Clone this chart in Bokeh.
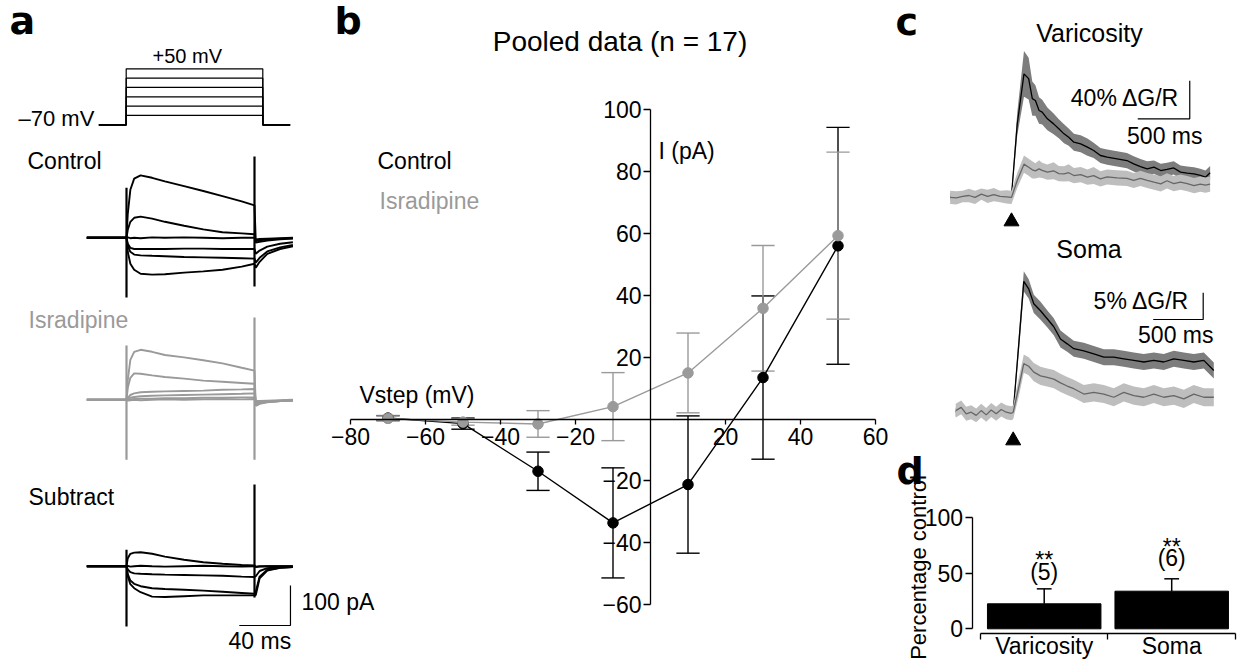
import numpy as np
from bokeh.plotting import figure
from bokeh.models import Range1d, LinearAxis, FixedTicker, CustomJSTickFormatter
from bokeh.core.properties import value
from bokeh.embed import file_html
from bokeh.resources import INLINE

FONT = "Liberation Sans"
GRAY = "#9a9a9a"

# ======================= DATA =======================
# ---- panel a: voltage protocol ----
hold_mv = -70
step_mv = [-50, -30, -10, 10, 30, 50]
step_dur_ms = 100

# ---- panel a: whole-cell currents (pA) sampled at these times (ms, step onset = 0)
trace_t = [-31, 0, 1, 3, 6, 11, 20, 30, 45, 60, 75, 90, 100, 101, 104, 110, 120, 130]
ctrl_traces = [
    [0, 0, 60, 120, 148, 156, 150, 141, 129, 117, 104, 91, 81, -8, -6, -4, -2, -1],
    [0, 0, 20, 40, 50, 53, 48, 40, 30, 21, 14, 11, 9, -12, -10, -7, -4, -2],
    [0, 0, 1, -1, 0, -1, 1, 0, 1, 0, -1, 0, 0, -4, -3, -2, -1, 0],
    [0, 0, -15, -25, -28, -28, -28, -28, -27, -27, -28, -28, -28, -40, -32, -22, -15, -11],
    [0, 0, -20, -35, -42, -44, -45, -46, -48, -49, -50, -51, -52, -62, -50, -34, -24, -18],
    [0, 0, -35, -65, -80, -90, -92, -91, -87, -84, -80, -72, -65, -75, -60, -40, -28, -21],
]
isr_traces = [
    [0, 0, 50, 100, 120, 125, 120, 112, 106, 99, 91, 80, 73, -15, -10, -6, -3, -2],
    [0, 0, 30, 55, 66, 65, 61, 57, 53, 48, 45, 42, 40, -12, -9, -5, -3, -2],
    [0, 0, 5, 12, 16, 19, 20, 21, 22, 23, 25, 26, 27, -10, -8, -5, -3, -2],
    [0, 0, 2, 5, 7, 9, 10, 11, 12, 13, 14, 15, 16, -8, -7, -5, -3, -1],
    [0, 0, 0, 1, 2, 3, 3, 4, 4, 5, 5, 6, 6, -5, -5, -4, -2, -1],
    [0, 0, -2, -1, 0, -1, 0, 1, 0, 1, 2, 1, 2, -3, -3, -2, -1, 0],
]
sub_traces = [
    [0, 0, 20, 31, 34, 35, 31, 24, 16, 10, 6, 3, 2, -2, -1, 0, 0, 0],
    [0, 0, 1, -1, 0, 1, 0, -1, 0, 1, 0, -1, 0, -1, 0, 0, 0, 0],
    [0, 0, -8, -15, -18, -19, -20, -21, -22, -23, -24, -26, -27, -25, -12, -5, -2, -1],
    [0, 0, -20, -36, -44, -50, -55, -57, -59, -61, -64, -67, -69, -64, -26, -9, -4, -2],
    [0, 0, -25, -45, -55, -65, -76, -77, -75, -73, -73, -73, -73, -72, -30, -11, -4, -2],
]
# capacitive transients (pA): [top, bottom] at step onset and at step offset
ctrl_trans = [[125, -149], [203, -122]]
isr_trans = [[136, -150], [206, -150]]
sub_trans = [[41, -151], [204, -78]]
scale_pa, scale_ms = 100, 40

# ---- panel b: pooled I-V ----
vstep = [-70, -50, -30, -10, 10, 30, 50]
i_ctrl = [0.3, -1.5, -16.9, -33.6, -21.2, 13.4, 56.0]
e_ctrl = [0.8, 1.8, 6.2, 17.8, 22.2, 26.4, 38.3]
i_isr = [0.2, -1.0, -1.6, 4.0, 14.9, 35.8, 59.3]
e_isr = [0.8, 1.0, 4.3, 11.0, 12.9, 20.3, 27.0]

# ---- panel c: Ca2+ transients (% dG/R), time in ms (stimulus at 0) ----
var_t = [-590, -530, -470, -410, -350, -290, -230, -170, -110, -50, 0, 55, 120, 165, 200, 230,
         265, 295, 345, 405, 455, 505, 550, 600, 665, 730, 790, 855, 920, 1015, 1110, 1175,
         1240, 1305, 1370, 1435, 1495, 1560, 1625, 1690, 1755, 1815, 1865, 1910]
var_ctrl = [-1, -2, 0, 1, -1, 0, 1, -1, 0, -1, 0, 75, 128, 123, 102, 100,
            89.5, 87.7, 80.7, 75.4, 70.2, 64.9, 61.4, 56.1, 54.4, 50.9, 47.4, 42.1, 40.4, 38.6, 36.8, 33.3,
            30.5, 28.1, 29.8, 26.3, 27.5, 29, 24.6, 23.5, 22.8, 21.1, 19.3, 24]
var_ctrl_sem = [4, 4, 4, 4, 4, 4, 4, 4, 4, 4, 4, 12, 24, 22, 18, 16,
                14, 13, 12, 11, 10, 10, 9, 9, 9, 9, 8, 8, 8, 8, 8, 8,
                8, 8, 7, 7, 7, 7, 7, 7, 7, 7, 7, 7]
var_isr = [-2, -2.5, -1, 0, -2, 1.5, -1, 1, -1, -1.5, -2, 15.8, 33, 29.8, 27, 26,
           28, 26.5, 24.6, 26, 23, 22.8, 24, 21, 22, 19.3, 21, 17.5, 19.5, 18.5, 18, 15.8,
           18, 15.8, 14, 12.3, 15.5, 12.5, 14, 12.5, 10.5, 12, 11, 12]
var_isr_sem = [7, 7, 6, 7, 7, 6, 7, 7, 6, 7, 7, 8, 9, 9, 9, 8,
               9, 8, 8, 9, 8, 8, 9, 8, 8, 8, 9, 8, 8, 8, 8, 8,
               8, 8, 8, 8, 8, 8, 8, 8, 8, 8, 8, 8]

soma_t = [-575, -520, -470, -420, -370, -320, -270, -220, -170, -120, -70, -20, 0, 56, 106, 155,
          206, 273, 340, 406, 473, 540, 606, 706, 806, 906, 1006, 1106, 1206, 1306, 1406, 1506,
          1606, 1706, 1806, 1906, 2006]
soma_ctrl = [0, 0.5, -0.2, 0, -0.4, 0.2, -0.3, 0.3, -0.2, 0.3, 0, -0.1, 0, 12.8, 24.5, 23.1,
             20.3, 19.0, 17.5, 16.0, 13.7, 12.8, 11.9, 11.5, 10.9, 10.3, 10.3, 10.0, 9.7, 9.4, 9.7, 9.4,
             10.0, 9.7, 9.4, 9.7, 7.8]
soma_ctrl_sem = [0.8] * 13 + [1.6, 1.9, 1.8, 1.7, 1.7, 1.6, 1.6, 1.6, 1.5, 1.5, 1.5, 1.5, 1.5,
                              1.5, 1.5, 1.5, 1.5, 1.5, 1.5, 1.5, 1.5, 1.5, 1.5, 1.5]
soma_isr = [0.3, 0.9, -0.3, 0, -0.6, 0.3, -0.5, 0.4, -0.3, 0.5, 0, -0.2, 0, 4.7, 9.1, 8.6,
            7.5, 6.8, 6.5, 6.2, 5.5, 4.9, 4.4, 3.4, 3.7, 3.4, 2.8, 3.7, 3.1, 2.8, 3.4, 2.8,
            3.1, 2.5, 3.4, 2.8, 2.8]
soma_isr_sem = [1.3] * 13 + [1.7] * 24
stim_t = 0
var_scale = (40, 500)   # % dG/R, ms
soma_scale = (5, 500)

# ---- panel d ----
sites = ["Varicosity", "Soma"]
pct_control = [22.4, 33.7]
pct_sem = [13.4, 11.1]
n_cells = [5, 6]
signif = ["**", "**"]

# ======================= LAYOUT HELPERS =======================
CW, CH, X0, Y0 = 1240, 661, 0, 0
TXT_DROP = 0.34   # measured downward offset of Bokeh's alphabetic baseline (em)


def xr(p0, v0, p1, v1):
    s = (v1 - v0) / (p1 - p0)
    return Range1d(v0 + (X0 - p0) * s, v0 + (X0 + CW - p0) * s)


def yr(p0, v0, p1, v1):
    s = (v1 - v0) / (p1 - p0)
    return Range1d(v0 + (Y0 + CH - p0) * s, v0 + (Y0 - p0) * s)


p = figure(width=CW, height=CH, output_backend="svg", toolbar_location=None,
           x_axis_location=None, y_axis_location=None, min_border=0,
           outline_line_color=None,
           x_range=xr(650, 0, 725, 20), y_range=yr(418.5, 0, 109.3, 100))
p.xgrid.visible = False
p.ygrid.visible = False

p.extra_x_ranges = {
    "pgx": xr(0, 0, 1, 1),
    "prx": xr(125.7, 0, 262.3, step_dur_ms),
    "ax": xr(126, 0, 254, step_dur_ms),
    "vx": xr(1011, 0, 1063, 500),
    "sx": xr(1012.7, 0, 1062.7, 500),
    "dx": xr(1043.7, 0, 1171.2, 1),
}
p.extra_y_ranges = {
    "pgy": yr(0, 0, 1, 1),
    "pry": yr(124.3, -70, 68.3, 50),
    "cy": yr(237.3, 0, 197.3, 100),
    "iy": yr(399.3, 0, 359.3, 100),
    "suy": yr(565.7, 0, 525.7, 100),
    "vy": yr(195, 0, 157, 40),
    "sy": yr(411.7, 0, 385.0, 5),
    "dy": yr(628.3, 0, 516.7, 100),
}


def txt(s, x, y, size=23, color="black", align="left", bold=False, angle=0,
        font=FONT, xn="pgx", yn="pgy"):
    if angle == 0 and yn == "pgy":
        y = y - TXT_DROP * size
    elif angle != 0 and xn == "pgx":
        x = x - TXT_DROP * size
    p.text(x=[x], y=[y], text=[s], text_font=value(font), text_font_size=f"{size}px",
           text_color=color, text_align=align, text_baseline="alphabetic",
           text_font_style="bold" if bold else "normal", angle=angle,
           x_range_name=xn, y_range_name=yn)


# ======================= PANEL a =======================
pre, post = 20, 20
prot_xs = [[-pre, 0, 0, step_dur_ms, step_dur_ms, step_dur_ms + post] for _ in step_mv]
prot_ys = [[hold_mv, hold_mv, v, v, hold_mv, hold_mv] for v in step_mv]
p.multi_line(prot_xs, prot_ys, line_color="black", line_width=1.2,
             x_range_name="prx", y_range_name="pry")

for traces, trans, color, yname in [(ctrl_traces, ctrl_trans, "black", "cy"),
                                    (isr_traces, isr_trans, GRAY, "iy"),
                                    (sub_traces, sub_trans, "black", "suy")]:
    p.multi_line([trace_t] * len(traces), traces, line_color=color, line_width=1.9,
                 x_range_name="ax", y_range_name=yname)
    p.segment(x0=[0, step_dur_ms], y0=[trans[0][0], trans[1][0]],
              x1=[0, step_dur_ms], y1=[trans[0][1], trans[1][1]],
              line_color=color, line_width=2.2, x_range_name="ax", y_range_name=yname)

# scale bar (100 pA, 40 ms)
sb_t, sb_i = 128.1, -148.3
p.line([sb_t - scale_ms, sb_t, sb_t], [sb_i, sb_i, sb_i + scale_pa], line_color="black",
       line_width=1.2, x_range_name="ax", y_range_name="suy")

txt("a", 9, 33, size=38, bold=True, font="DejaVu Sans")
txt("+50 mV", 152, 62, size=20)
txt("\u201370 mV", 18, 125, size=22)
txt("Control", 27, 168)
txt("Isradipine", 28, 327, color=GRAY)
txt("Subtract", 28, 504)
txt("100 pA", 301, 609)
txt("40 ms", 228, 648)

# ======================= PANEL b =======================
minus_fmt = CustomJSTickFormatter(code="return tick < 0 ? '\u2212' + Math.abs(tick) : String(tick);")
ax_common = dict(axis_line_width=1.3, major_tick_line_width=1.3, major_tick_in=0,
                 minor_tick_in=0, minor_tick_out=0, formatter=minus_fmt,
                 major_label_text_font=FONT, major_label_text_font_size="23px",
                 major_label_text_color="black")
xax = LinearAxis(fixed_location=0, bounds=(-80, 60),
                 ticker=FixedTicker(ticks=[-80, -60, -40, -20, 20, 40, 60]),
                 major_tick_out=5, major_label_standoff=4, **ax_common)
p.add_layout(xax, "below")
yax = LinearAxis(fixed_location=0, bounds=(-60, 100),
                 ticker=FixedTicker(ticks=[-60, -40, -20, 20, 40, 60, 80, 100]),
                 major_tick_out=7, major_label_standoff=2, **ax_common)
p.add_layout(yax, "left")

cap = 3.1
vs = np.array(vstep, dtype=float)
for vals, errs, color in [(i_ctrl, e_ctrl, "black"), (i_isr, e_isr, GRAY)]:
    v = np.array(vals)
    e = np.array(errs)
    p.segment(x0=vs, y0=v - e, x1=vs, y1=v + e, line_color=color, line_width=1.4)
    p.segment(x0=np.r_[vs - cap, vs - cap], y0=np.r_[v + e, v - e],
              x1=np.r_[vs + cap, vs + cap], y1=np.r_[v + e, v - e],
              line_color=color, line_width=1.4)
for vals, color in [(i_ctrl, "black"), (i_isr, GRAY)]:
    p.line(vstep, vals, line_color=color, line_width=1.4)
for vals, color in [(i_ctrl, "black"), (i_isr, GRAY)]:
    p.scatter(vstep, vals, size=10.5, fill_color=color, line_color=color)

txt("b", 334, 33, size=38, bold=True, font="DejaVu Sans")
txt("Pooled data (n = 17)", 619.5, 51, size=28, align="center")
txt("Control", 377, 168)
txt("Isradipine", 379, 208, color=GRAY)
txt("I (pA)", 658, 158)
txt("Vstep (mV)", 359, 402)

# ======================= PANEL c =======================
for t, mc, sc, mi, si, xn, yn in [(var_t, var_ctrl, var_ctrl_sem, var_isr, var_isr_sem, "vx", "vy"),
                                  (soma_t, soma_ctrl, soma_ctrl_sem, soma_isr, soma_isr_sem, "sx", "sy")]:
    mc_, sc_, mi_, si_ = map(np.array, (mc, sc, mi, si))
    p.varea(x=t, y1=mc_ - sc_, y2=mc_ + sc_, fill_color="#7d7d7d", x_range_name=xn, y_range_name=yn)
    p.line(t, mc, line_color="black", line_width=1.3, x_range_name=xn, y_range_name=yn)
    p.varea(x=t, y1=mi_ - si_, y2=mi_ + si_, fill_color="#bebebe", x_range_name=xn, y_range_name=yn)
    p.line(t, mi, line_color="#666666", line_width=1.3, x_range_name=xn, y_range_name=yn)

# stimulus arrows
p.scatter([stim_t], [221], marker="triangle", size=15, color="black", x_range_name="vx", y_range_name="pgy")
p.scatter([stim_t], [440], marker="triangle", size=15, color="black", x_range_name="sx", y_range_name="pgy")

# scale bars
vt, vv = 1714, 80.7
p.line([vt - var_scale[1], vt, vt], [vv, vv, vv + var_scale[0]], line_color="black",
       line_width=1.2, x_range_name="vx", y_range_name="vy")
st, sv = 1900, 17.36
p.line([st - soma_scale[1], st, st], [sv, sv, sv + soma_scale[0]], line_color="black",
       line_width=1.2, x_range_name="sx", y_range_name="sy")

txt("c", 895, 34, size=38, bold=True, font="DejaVu Sans")
txt("Varicosity", 1089, 41, size=25, align="center")
txt("40% \u0394G/R", 1179, 105, align="right")
txt("500 ms", 1202, 143, align="right")
txt("Soma", 1088.5, 257, size=25, align="center")
txt("5% \u0394G/R", 1189, 308, align="right")
txt("500 ms", 1213, 342, align="right")

# ======================= PANEL d =======================
xpos = np.arange(len(sites), dtype=float)
p.vbar(x=xpos, top=pct_control, bottom=0, width=0.89, fill_color="black", line_color="black",
       x_range_name="dx", y_range_name="dy")
top = np.array(pct_control) + np.array(pct_sem)
p.segment(x0=xpos, y0=pct_control, x1=xpos, y1=top, line_color="black", line_width=1.5,
          x_range_name="dx", y_range_name="dy")
p.segment(x0=xpos - 0.058, y0=top, x1=xpos + 0.058, y1=top, line_color="black", line_width=1.5,
          x_range_name="dx", y_range_name="dy")

d_common = dict(x_range_name="dx", y_range_name="dy", axis_line_width=1.3,
                major_tick_line_width=1.3, major_tick_in=0, minor_tick_in=0, minor_tick_out=0,
                major_label_text_font=FONT, major_label_text_font_size="23px",
                major_label_text_color="black")
dyax = LinearAxis(fixed_location=-0.565, bounds=(0, 100), ticker=FixedTicker(ticks=[0, 50, 100]),
                  major_tick_out=7, major_label_standoff=2, **d_common)
p.add_layout(dyax, "left")
dxax = LinearAxis(fixed_location=-4, bounds=(-0.5, 1.5), ticker=FixedTicker(ticks=[-0.5, 0.5, 1.5]),
                  major_tick_out=6, formatter=CustomJSTickFormatter(code="return '';"), **d_common)
p.add_layout(dxax, "below")
dlab = LinearAxis(fixed_location=-4, bounds=(-0.5, 1.5), ticker=FixedTicker(ticks=list(xpos)),
                  major_tick_out=0, major_label_standoff=0, axis_line_alpha=0,
                  formatter=CustomJSTickFormatter(args=dict(labels=sites),
                                                  code="return labels[Math.round(tick)] || '';"),
                  **d_common)
p.add_layout(dlab, "below")

sig_y = [567, 554]
n_y = [579, 565]
for i in range(len(sites)):
    txt(signif[i], xpos[i], sig_y[i], align="center", xn="dx")
    txt(f"({n_cells[i]})", xpos[i], n_y[i], align="center", xn="dx")

txt("d", 896, 483, size=38, bold=True, font="DejaVu Sans")
txt("Percentage control", 925, 567, size=22, align="center", angle=np.pi / 2)

open("out.html", "w").write(file_html(p, INLINE))
